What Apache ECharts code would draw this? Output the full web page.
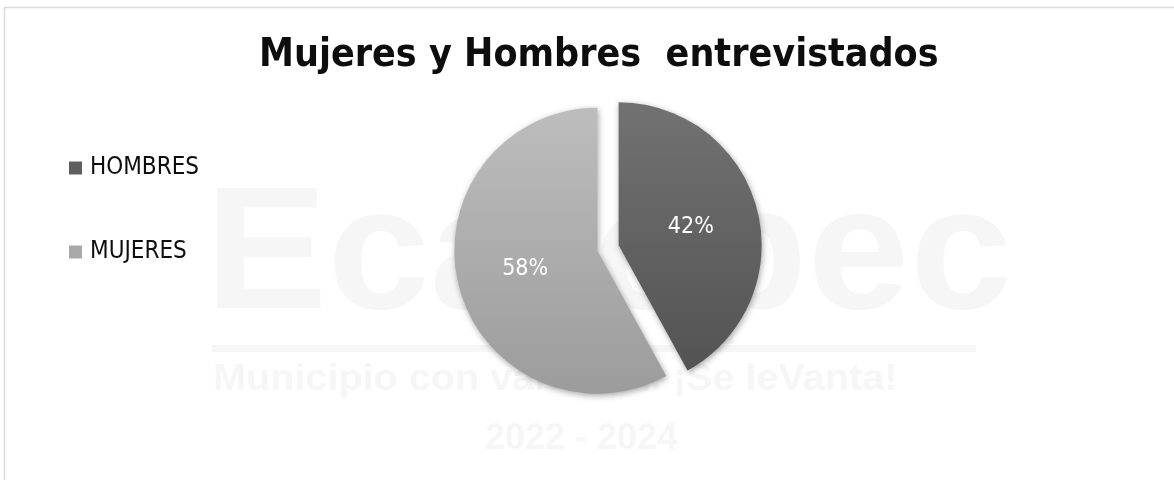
<!DOCTYPE html>
<html>
<head>
<meta charset="utf-8">
<script src="https://cdn.jsdelivr.net/npm/echarts@6/dist/echarts.min.js"></script>
<style>html,body{margin:0;padding:0;background:#fff}#c{width:1174px;height:480px}</style>
</head>
<body>
<div id="c"></div>
<script>
const titleText = 'Mujeres y Hombres  entrevistados';
const categories = ['HOMBRES', 'MUJERES'];
const values = [42, 58];
const labels = ['42%', '58%'];

const chart = echarts.init(document.getElementById('c'));
const grad = (a, b) => new echarts.graphic.LinearGradient(0, 0, 0, 1, [{offset: 0, color: a}, {offset: 1, color: b}]);
const colors = [grad('#727272', '#535353'), grad('#bdbdbd', '#9c9c9c')];
const solid = ['#5f5f5f', '#a9a9a9'];
const narrow = '"DejaVu Sans Condensed", "DejaVu Sans", sans-serif';
const wm = '#f6f6f6';

chart.setOption({
  animation: false,
  backgroundColor: '#ffffff',
  graphic: [
    {type: 'rect', z: -10, shape: {x: 4.5, y: 7.5, width: 1180, height: 480}, style: {fill: 'none', stroke: '#dadada', lineWidth: 1.5}},
    {type: 'text', z: -9, x: 205, y: 172, scaleX: 1.05, style: {text: 'Ecatepec', fill: wm, font: 'bold 175px "Liberation Sans", sans-serif'}},
    {type: 'rect', z: -9, shape: {x: 212, y: 345, width: 764, height: 7}, style: {fill: wm}},
    {type: 'text', z: -9, x: 213, y: 362, scaleX: 1.1, style: {text: 'Municipio con valores... ¡Se leVanta!', fill: wm, font: 'bold 36px "Liberation Sans", sans-serif'}},
    {type: 'text', z: -9, x: 485, y: 421, style: {text: '2022 - 2024', fill: wm, font: 'bold 36px "Liberation Sans", sans-serif'}}
  ],
  title: {
    text: titleText,
    left: 254,
    top: 31,
    textStyle: {fontSize: 39, fontWeight: 'bold', color: '#0d0d0d', fontFamily: narrow}
  },
  legend: {
    orient: 'vertical',
    left: 64,
    top: 151,
    itemGap: 60,
    itemWidth: 13,
    itemHeight: 13,
    icon: 'rect',
    selectedMode: false,
    textStyle: {fontSize: 24, color: '#0d0d0d', fontFamily: narrow, padding: [0, 0, 0, 3]},
    data: categories.map((c, i) => ({name: c, itemStyle: {color: solid[i]}}))
  },
  series: [{
    type: 'pie',
    center: [608, 248],
    radius: 143,
    startAngle: 90,
    clockwise: true,
    selectedMode: 'multiple',
    selectedOffset: 11,
    label: {
      position: 'inside',
      color: '#ffffff',
      fontSize: 23,
      fontFamily: narrow,
      formatter: p => labels[p.dataIndex]
    },
    labelLine: {show: false},
    itemStyle: {shadowColor: 'rgba(0,0,0,0.35)', shadowBlur: 6, shadowOffsetX: 1, shadowOffsetY: 2},
    emphasis: {disabled: true},
    data: categories.map((c, i) => ({name: c, value: values[i], selected: true, itemStyle: {color: colors[i]}}))
  }]
});
</script>
</body>
</html>
